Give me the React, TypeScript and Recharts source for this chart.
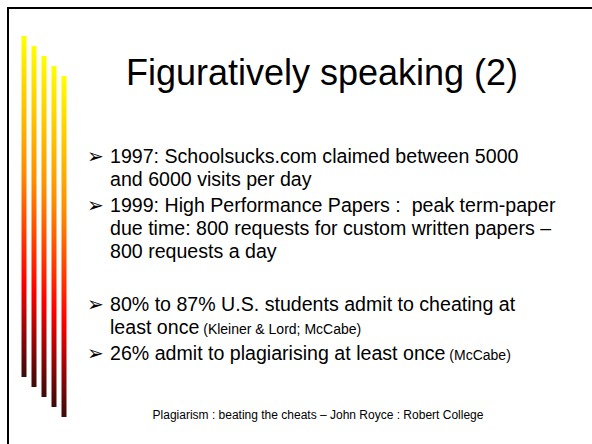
import React from "react";
import { ComposedChart, Bar, XAxis, YAxis, Customized } from "recharts";

// Decorative gradient stripes (values are in slide pixel units on the y axis)
const stripeNames = ["s1", "s2", "s3", "s4", "s5"];
const stripeTops = [36, 46, 56, 66, 76];
const stripeBottoms = [377, 387, 397, 407, 417];

const titleText = "Figuratively speaking (2)";
const bullet1 = ["1997: Schoolsucks.com claimed between 5000", "and 6000 visits per day"];
const bullet2 = [
  "1999: High Performance Papers :  peak term-paper",
  "due time: 800 requests for custom written papers –",
  "800 requests a day",
];
const bullet3 = ["80% to 87% U.S. students admit to cheating at", "least once"];
const bullet3Cite = "(Kleiner & Lord; McCabe)";
const bullet4 = ["26% admit to plagiarising at least once"];
const bullet4Cite = "(McCabe)";
const footerText = "Plagiarism : beating the cheats – John Royce : Robert College";

const data = stripeNames.map((n, i) => ({ name: n, range: [stripeTops[i], stripeBottoms[i]] }));

const FONT = "'Liberation Sans', Arial, sans-serif";
const W = 592;
const H = 444;

const Arrow = ({ y }: { y: number }) => (
  <text x={87} y={y} fontFamily="'DejaVu Sans', sans-serif" fontSize={20} fill="#000">
    ➢
  </text>
);

const Line = ({ y, text, cite }: { y: number; text: string; cite?: string }) => (
  <text x={110} y={y} fontFamily={FONT} fontSize={19.6} fill="#000" style={{ whiteSpace: "pre" }}>
    {text}
    {cite ? <tspan fontSize={14}>{" " + cite}</tspan> : null}
  </text>
);

const SlideText = () => (
  <g>
    <rect x={8} y={8} width={600} height={460} fill="none" stroke="#000" strokeWidth={2} />
    <text x={322} y={85} textAnchor="middle" fontFamily={FONT} fontSize={36} fill="#000">
      {titleText}
    </text>
    <Arrow y={163} />
    <Line y={163} text={bullet1[0]} />
    <Line y={186} text={bullet1[1]} />
    <Arrow y={212} />
    <Line y={212} text={bullet2[0]} />
    <Line y={235} text={bullet2[1]} />
    <Line y={258} text={bullet2[2]} />
    <Arrow y={311} />
    <Line y={311} text={bullet3[0]} />
    <Line y={334} text={bullet3[1]} cite={bullet3Cite} />
    <Arrow y={360} />
    <Line y={360} text={bullet4[0]} cite={bullet4Cite} />
    <text x={318} y={419} textAnchor="middle" fontFamily={FONT} fontSize={12} fill="#000">
      {footerText}
    </text>
  </g>
);

export default function App() {
  return (
    <div style={{ position: "absolute", left: 0, top: 0, width: W, height: H, background: "#fff" }}>
      <ComposedChart
        width={W}
        height={H}
        data={data}
        margin={{ top: 0, right: W - 68.5, bottom: 0, left: 18.5 }}
      >
        <defs>
          <linearGradient id="stripeGrad" x1="0" y1="0" x2="0" y2="1">
            <stop offset="0%" stopColor="#FFFF00" />
            <stop offset="40%" stopColor="#FF8C00" />
            <stop offset="72%" stopColor="#FF0000" />
            <stop offset="100%" stopColor="#3C0A0A" />
          </linearGradient>
        </defs>
        <XAxis dataKey="name" hide padding={{ left: 0, right: 0 }} />
        <YAxis hide domain={[0, H]} reversed allowDataOverflow />
        <Bar dataKey="range" barSize={5} fill="url(#stripeGrad)" isAnimationActive={false} />
        <Customized component={SlideText} />
      </ComposedChart>
    </div>
  );
}
